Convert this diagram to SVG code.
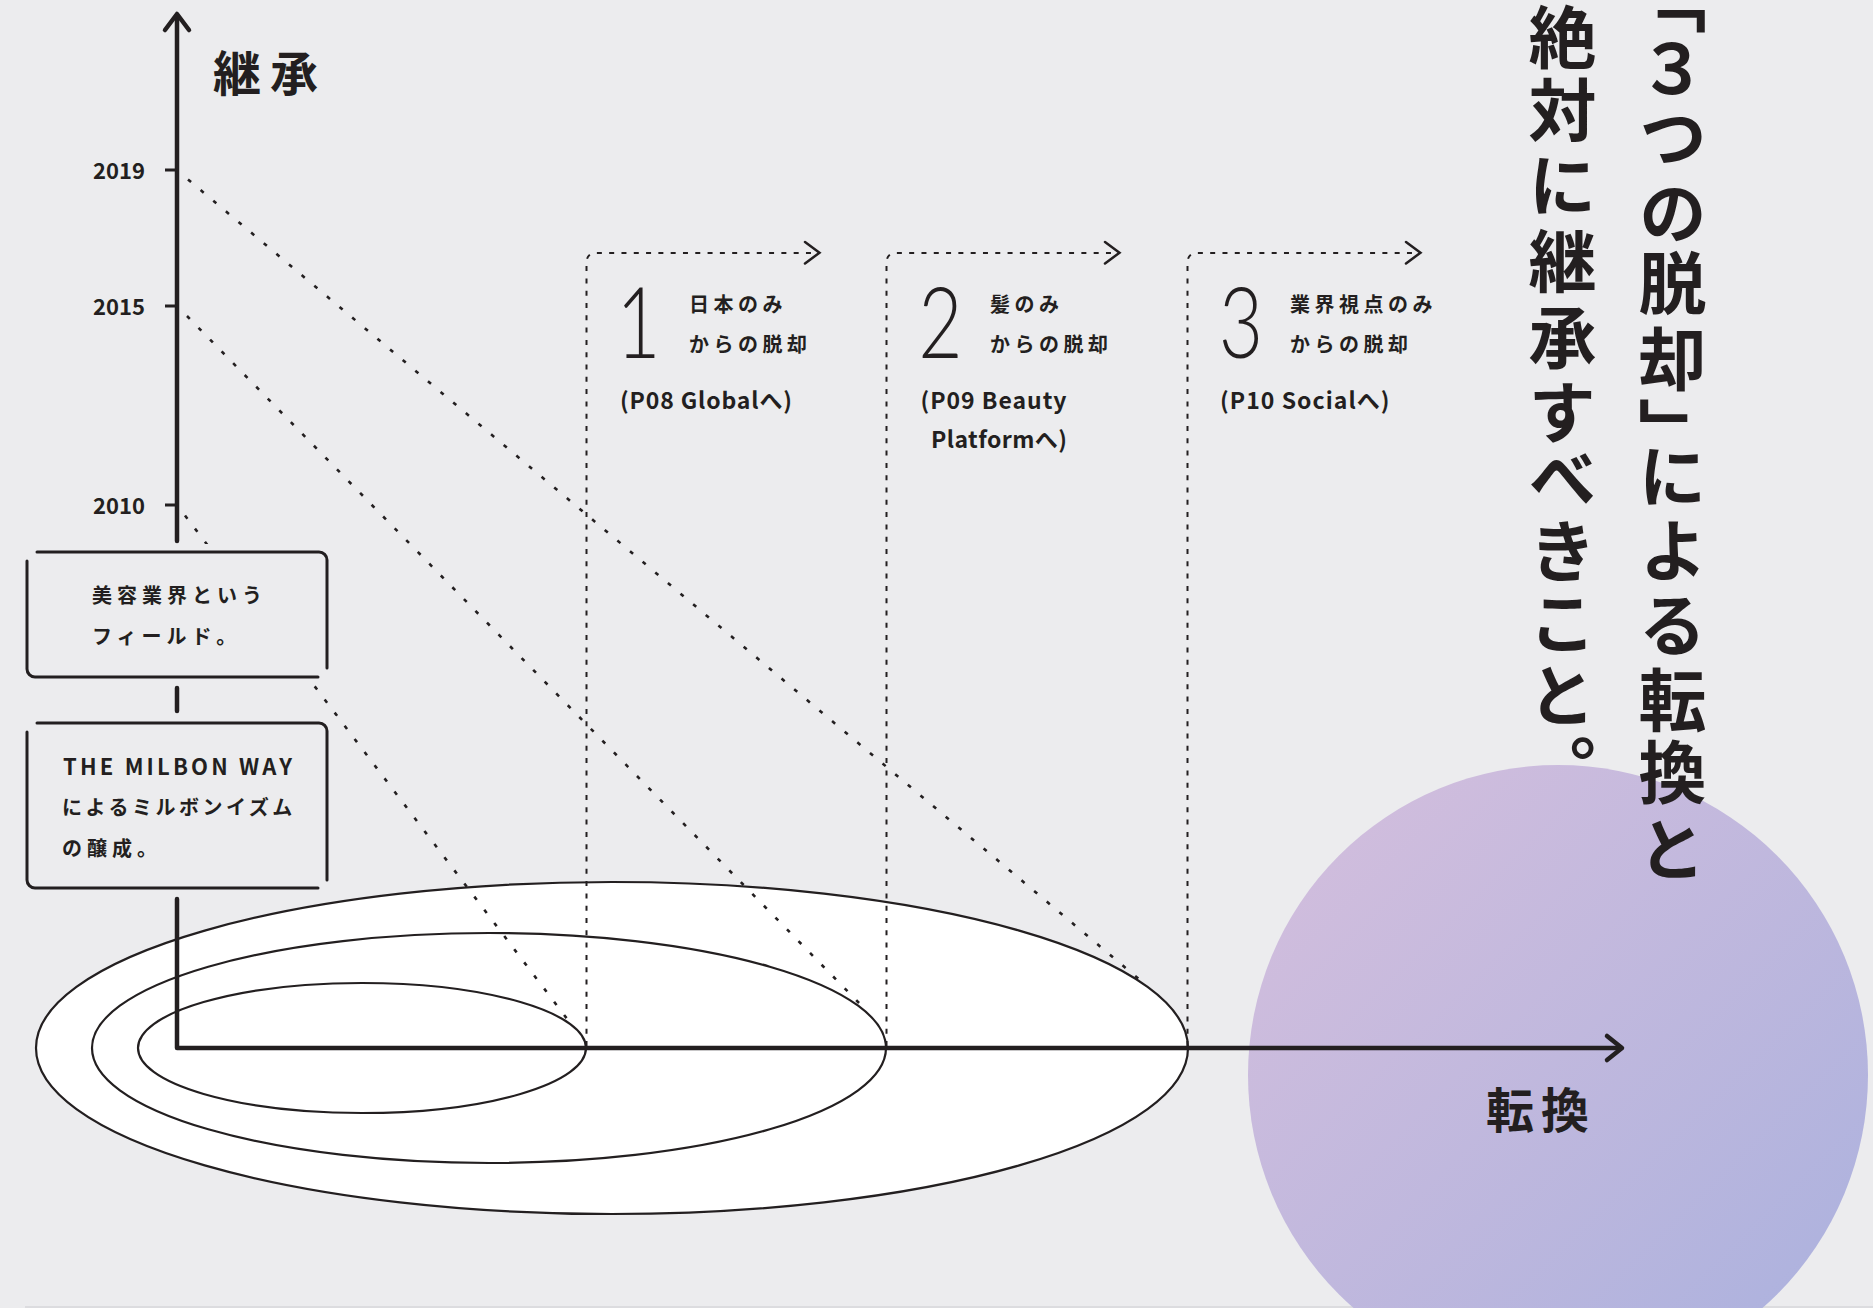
<svg xmlns="http://www.w3.org/2000/svg" width="1873" height="1308" viewBox="0 0 1873 1308">
<defs>
<linearGradient id="sphere" gradientUnits="userSpaceOnUse" x1="1300" y1="790" x2="1820" y2="1320">
<stop offset="0" stop-color="#d3bedd"/>
<stop offset="1" stop-color="#adb2de"/>
</linearGradient>
</defs>
<style>
.ax{stroke:#231f20;stroke-width:4.5;fill:none;stroke-linecap:round;stroke-linejoin:round}
.tick{stroke:#231f20;stroke-width:3;fill:none}
.vd{stroke:#231f20;stroke-width:2;fill:none;stroke-dasharray:5 7.3}
.dg{stroke:#231f20;stroke-width:2.6;fill:none;stroke-dasharray:4 12.5}
.chev{stroke:#231f20;stroke-width:2.5;fill:none;stroke-linecap:round;stroke-linejoin:miter}
.ell{fill:#ffffff;stroke:#231f20;stroke-width:2.2}
.box{stroke:#231f20;stroke-width:3;fill:none;stroke-linecap:round}
.boxbg{fill:#ececee}
text{fill:#231f20;font-family:"Noto Sans CJK JP","Noto Sans",sans-serif}
.yr{font-size:22px;font-weight:600;text-anchor:end}
.lbl{font-size:48px;font-weight:700}
.sm{font-size:20px;font-weight:600}
.pg{font-size:23px;font-weight:600}
.num{font-family:"Lato","DejaVu Sans",sans-serif;font-weight:300;font-size:98px;text-anchor:middle}
.vt{font-size:68px;font-weight:700;writing-mode:vertical-rl}
.half{font-feature-settings:"vhal" 1}
</style>
<rect width="1873" height="1308" fill="#ececee"/>
<rect x="25" y="1306" width="1848" height="2" fill="#dcdcdf"/>

<g id="sphere-bg">
<circle cx="1558" cy="1075" r="310" fill="url(#sphere)"/>
</g>

<g id="field-rings">
<ellipse class="ell" cx="612" cy="1048" rx="576" ry="166"/>
<ellipse class="ell" cx="489" cy="1048" rx="397" ry="115"/>
<ellipse class="ell" cx="362" cy="1048" rx="224" ry="65"/>
</g>

<g id="connectors">
<path class="vd" d="M586.5,1046 V263 Q586.5,253 596.5,253 H814"/>
<path class="chev" d="M805,242 L819.5,252.7 L805,263.5"/>
<path class="vd" d="M886.5,1046 V263 Q886.5,253 896.5,253 H1114"/>
<path class="chev" d="M1105,242 L1119.5,252.7 L1105,263.5"/>
<path class="vd" d="M1187.5,1046 V263 Q1187.5,253 1197.5,253 H1415"/>
<path class="chev" d="M1406,242 L1420.5,252.7 L1406,263.5"/>
<path class="dg" d="M188,179.5 L1140,980"/>
<path class="dg" d="M187,316 L861,1005"/>
<path class="dg" d="M185,515.5 L571,1024"/>
</g>

<g id="axes">
<path class="ax" d="M177,16 V541"/>
<path class="ax" d="M165,30 L177,14 L189,30"/>
<path class="ax" d="M177,688 V711"/>
<path class="ax" d="M177,899 V1048 H1621"/>
<path class="ax" d="M1607,1036 L1622,1048 L1607,1060"/>
<path class="tick" d="M165,170 H177 M165,306 H177 M165,505 H177"/>
<text class="yr" x="145" y="178.5">2019</text>
<text class="yr" x="145" y="314.5">2015</text>
<text class="yr" x="145" y="513.5">2010</text>
<text class="lbl" x="213" y="91" letter-spacing="9">継承</text>
<text class="lbl" x="1486" y="1128" letter-spacing="7">転換</text>
</g>

<g id="box-field">
<rect class="boxbg" x="20" y="544" width="316" height="140"/>
<path class="box" d="M37,552 H319 A8,8 0 0 1 327,560 V668"/>
<path class="box" d="M27,561 V669 A8,8 0 0 0 35,677 H318"/>
<text class="sm" x="92" y="603" letter-spacing="5">美容業界という</text>
<text class="sm" x="92" y="644" letter-spacing="5">フィールド。</text>
</g>

<g id="box-milbon-way">
<rect class="boxbg" x="20" y="716" width="316" height="180"/>
<path class="box" d="M37,723 H319 A8,8 0 0 1 327,731 V880"/>
<path class="box" d="M27,732 V880 A8,8 0 0 0 35,888 H318"/>
<text class="sm" x="63" y="775" style="font-size:22px" textLength="229" lengthAdjust="spacing">THE MILBON WAY</text>
<text class="sm" x="62" y="815" letter-spacing="3.5">によるミルボンイズム</text>
<text class="sm" x="62" y="856" letter-spacing="5">の醸成。</text>
</g>

<g id="item-1">
<text class="num" transform="translate(638.4,357.5) scale(0.78,1)">1</text>
<text class="sm" x="689" y="311.5" letter-spacing="4.5">日本のみ</text>
<text class="sm" x="689" y="351.5" letter-spacing="4.5">からの脱却</text>
<text class="pg" x="620" y="409" textLength="172" lengthAdjust="spacing">(P08 Globalへ)</text>
</g>

<g id="item-2">
<text class="num" transform="translate(940.3,357.5) scale(0.78,1)">2</text>
<text class="sm" x="990" y="311.5" letter-spacing="4.5">髪のみ</text>
<text class="sm" x="990" y="351.5" letter-spacing="4.5">からの脱却</text>
<text class="pg" x="920.5" y="409" textLength="146" lengthAdjust="spacing">(P09 Beauty</text>
<text class="pg" x="931" y="448" textLength="136" lengthAdjust="spacing">Platformへ)</text>
</g>

<g id="item-3">
<text class="num" transform="translate(1240.8,357.5) scale(0.78,1)">3</text>
<text class="sm" x="1290" y="311.5" letter-spacing="4.5">業界視点のみ</text>
<text class="sm" x="1290" y="351.5" letter-spacing="4.5">からの脱却</text>
<text class="pg" x="1220" y="409" textLength="169.5" lengthAdjust="spacing">(P10 Socialへ)</text>
</g>

<g id="headline">
<text class="vt" x="1672.5"><tspan class="half" y="0">「</tspan><tspan y="35 103 179 249.5 325 397 442 516 591 666 738 815">３つの脱却」による転換と</tspan></text>
<text class="vt" x="1562.5" y="3.5 76 151 227.5 303.5 378.5 444 517.5 589 661.5 734">絶対に継承すべきこと。</text>
</g>
</svg>
